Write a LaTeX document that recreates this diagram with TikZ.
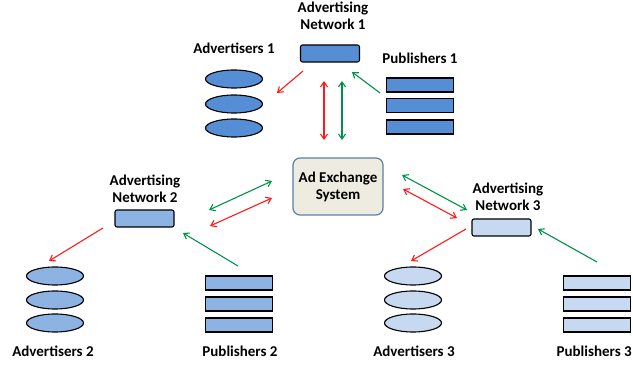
\documentclass[tikz,border=0pt]{standalone}
\usepackage{fontspec}
\setmainfont{Carlito}
\usetikzlibrary{arrows.meta,shapes.geometric}
\definecolor{netA}{HTML}{558ED5}
\definecolor{netB}{HTML}{8DB3E2}
\definecolor{netC}{HTML}{C6D9F1}
\definecolor{exfill}{HTML}{EEECE1}
\definecolor{exdraw}{HTML}{5B7FA8}
\definecolor{arred}{HTML}{FF1A1A}
\definecolor{argreen}{HTML}{00904A}
\tikzset{
  lbl/.style={font=\bfseries\fontsize{15}{17}\selectfont, align=center, inner sep=0pt},
  netbox/.style={draw=black, line width=1.1pt, rounded corners=2pt, minimum width=59pt, minimum height=17pt, inner sep=0pt},
  advell/.style={ellipse, draw=black, line width=1.1pt, minimum width=57pt, minimum height=18pt, inner sep=0pt},
  pubrect/.style={draw=black, line width=1.1pt, minimum width=67pt, minimum height=14pt, inner sep=0pt},
  redarr/.style={draw=arred, line width=1.1pt, -{Straight Barb[length=5pt,width=7pt]}},
  greenarr/.style={draw=argreen, line width=1.1pt, -{Straight Barb[length=5pt,width=7pt]}},
  redbi/.style={draw=arred, line width=1.1pt, {Straight Barb[length=5pt,width=7pt]}-{Straight Barb[length=5pt,width=7pt]}},
  greenbi/.style={draw=argreen, line width=1.1pt, {Straight Barb[length=5pt,width=7pt]}-{Straight Barb[length=5pt,width=7pt]}},
}
\begin{document}
\begin{tikzpicture}[x=1pt,y=-1pt]
\useasboundingbox (0,0) rectangle (633,366);
% exchange
\node[draw=exdraw, fill=exfill, line width=1.2pt, rounded corners=7pt, minimum width=90pt, minimum height=57pt, lbl] (ex) at (338,186.5) {Ad Exchange\\System};
% network 1
\node[netbox, fill=netA] (n1) at (330,53.5) {};
\node[lbl] (n1l) at (333,16) {Advertising\\Network 1};
\node[lbl] (a1l) at (234,48) {Advertisers 1};
\node[advell, fill=netA] (a1a) at (234,79) {};
\node[advell, fill=netA] (a1b) at (234,104) {};
\node[advell, fill=netA] (a1c) at (234,128) {};
\node[lbl] (p1l) at (420,58) {Publishers 1};
\node[pubrect, fill=netA] (p1a) at (420,85) {};
\node[pubrect, fill=netA] (p1b) at (420,105.5) {};
\node[pubrect, fill=netA] (p1c) at (420,127) {};
\coordinate (r1s) at (303,71); \coordinate (r1e) at (277,93);
\coordinate (g1s) at (380,93); \coordinate (g1e) at (352,72);
\draw[redarr] (r1s) -- (r1e);
\draw[greenarr] (g1s) -- (g1e);
\coordinate (v1t) at (324,81); \coordinate (v1b) at (324,140);
\coordinate (v2t) at (342,81); \coordinate (v2b) at (342,140);
\draw[redbi] (v1t) -- (v1b);
\draw[greenbi] (v2t) -- (v2b);
% network 2
\node[netbox, fill=netB] (n2) at (144.5,218.5) {};
\node[lbl] (n2l) at (145,189) {Advertising\\Network 2};
\node[advell, fill=netB] (a2a) at (55,276) {};
\node[advell, fill=netB] (a2b) at (55,300) {};
\node[advell, fill=netB] (a2c) at (55,323) {};
\node[lbl] (a2l) at (53,351) {Advertisers 2};
\node[pubrect, fill=netB] (p2a) at (239,283) {};
\node[pubrect, fill=netB] (p2b) at (239,304) {};
\node[pubrect, fill=netB] (p2c) at (239,325) {};
\node[lbl] (p2l) at (240,351) {Publishers 2};
\coordinate (g2a) at (209,210); \coordinate (g2b) at (272,181);
\coordinate (r2a) at (210,226); \coordinate (r2b) at (272,198);
\draw[greenbi] (g2a) -- (g2b);
\draw[redbi] (r2a) -- (r2b);
\coordinate (r2s) at (103,228); \coordinate (r2e) at (49,261);
\coordinate (g2s) at (238,266); \coordinate (g2e) at (183,233);
\draw[redarr] (r2s) -- (r2e);
\draw[greenarr] (g2s) -- (g2e);
% network 3
\node[netbox, fill=netC] (n3) at (501.5,227.5) {};
\node[lbl] (n3l) at (508,197) {Advertising\\Network 3};
\node[advell, fill=netC] (a3a) at (413,276) {};
\node[advell, fill=netC] (a3b) at (413,300) {};
\node[advell, fill=netC] (a3c) at (413,323) {};
\node[lbl] (a3l) at (414,351) {Advertisers 3};
\node[pubrect, fill=netC] (p3a) at (597,283) {};
\node[pubrect, fill=netC] (p3b) at (597,304) {};
\node[pubrect, fill=netC] (p3c) at (597,325) {};
\node[lbl, anchor=east] (p3l) at (632,351) {Publishers 3};
\coordinate (g3a) at (402,175); \coordinate (g3b) at (467,210);
\coordinate (r3a) at (403,189); \coordinate (r3b) at (457,218);
\draw[greenbi] (g3a) -- (g3b);
\draw[redbi] (r3a) -- (r3b);
\coordinate (r3s) at (466,229); \coordinate (r3e) at (411,261);
\coordinate (g3s) at (597,262); \coordinate (g3e) at (538,229);
\draw[redarr] (r3s) -- (r3e);
\draw[greenarr] (g3s) -- (g3e);
\end{tikzpicture}
\end{document}
